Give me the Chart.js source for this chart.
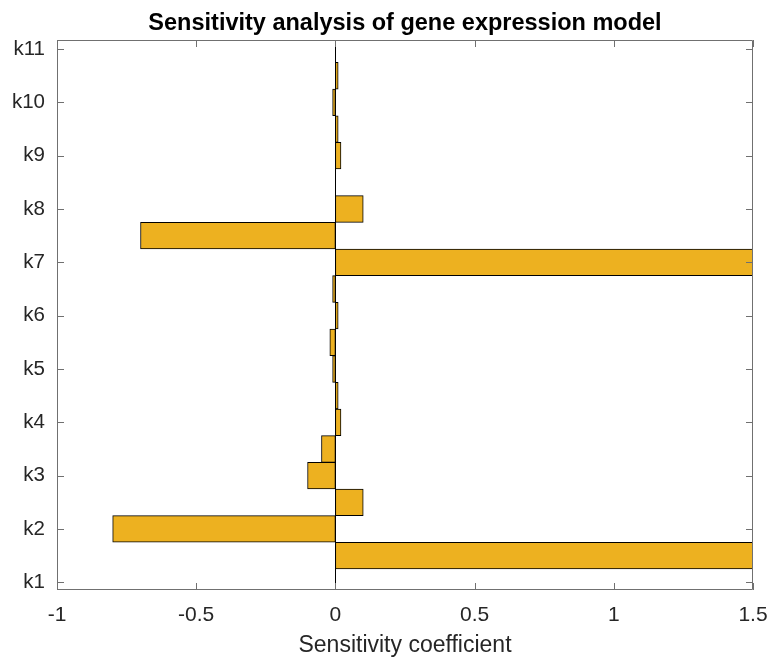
<!DOCTYPE html>
<html>
<head>
<meta charset="utf-8">
<script src="https://cdn.jsdelivr.net/npm/chart.js@4/dist/chart.umd.min.js"></script>
<style>
  body { margin: 0; background: #fff; }
  #wrap { width: 771px; height: 661px; }
</style>
</head>
<body>
<div id="wrap"><canvas id="grafico" width="771" height="661"></canvas></div>
<script>
// parameter positions (bars sit on half steps between k labels)
const positions = [1.5, 2, 2.5, 3, 3.5, 4, 4.5, 5, 5.5, 6, 6.5, 7, 7.5, 8, 8.5, 9, 9.5, 10, 10.5];
const coefficients = [1.5, -0.8, 0.1, -0.1, -0.05, 0.02, 0.01, -0.01, -0.02, 0.01, -0.01, 1.5, -0.7, 0.1, 0, 0.02, 0.01, -0.01, 0.01];
const tickLabels = ["k1", "k2", "k3", "k4", "k5", "k6", "k7", "k8", "k9", "k10", "k11"];
const xTicks = [-1, -0.5, 0, 0.5, 1, 1.5];

const FONT = "'Liberation Sans', Arial, Helvetica, sans-serif";
const AXIS_COLOR = "#707070";

// MATLAB style box with inward ticks and the zero baseline
const boxPlugin = {
  id: "box",
  afterDatasetsDraw(chart) {
    const { ctx, chartArea, scales } = chart;
    const { left, right, top, bottom } = chartArea;
    const len = 7;
    ctx.save();

    // baseline at zero
    const x0 = Math.round(scales.x.getPixelForValue(0)) + 0.5;
    ctx.strokeStyle = "#000";
    ctx.lineWidth = 1;
    ctx.beginPath();
    ctx.moveTo(x0, top);
    ctx.lineTo(x0, bottom);
    ctx.stroke();

    ctx.strokeStyle = AXIS_COLOR;
    ctx.beginPath();
    ctx.rect(left + 0.5, top + 0.5, right - left - 1, bottom - top - 1);
    xTicks.forEach(v => {
      const px = Math.round(scales.x.getPixelForValue(v)) + 0.5;
      ctx.moveTo(px, bottom);
      ctx.lineTo(px, bottom - len);
      ctx.moveTo(px, top);
      ctx.lineTo(px, top + len);
    });
    tickLabels.forEach((t, i) => {
      const py = Math.round(scales.y.getPixelForValue(i + 1)) + 0.5;
      ctx.moveTo(left, py);
      ctx.lineTo(left + len, py);
      ctx.moveTo(right, py);
      ctx.lineTo(right - len, py);
    });
    ctx.stroke();
    ctx.restore();
  }
};

const points = positions.map((p, i) => ({ x: coefficients[i], y: p }));

new Chart(document.getElementById("grafico"), {
  type: "bar",
  data: {
    datasets: [{
      data: points,
      backgroundColor: "#EDB120",
      borderColor: "#000",
      borderWidth: 1,
      borderSkipped: false,
      barPercentage: 1,
      categoryPercentage: 1
    }]
  },
  options: {
    responsive: false,
    animation: false,
    indexAxis: "y",
    layout: { padding: { left: 0, right: 18, top: 0, bottom: 0 } },
    plugins: {
      legend: { display: false },
      tooltip: { enabled: false },
      title: {
        display: true,
        text: "Sensitivity analysis of gene expression model",
        fullSize: false,
        color: "#000",
        font: { family: FONT, size: 23.5, weight: "bold", lineHeight: 1.2 },
        padding: { top: 9, bottom: 2.8 }
      }
    },
    scales: {
      x: {
        type: "linear",
        min: -1,
        max: 1.5,
        offset: false,
        afterBuildTicks(scale) {
          scale.ticks = xTicks.map(v => ({ value: v }));
        },
        afterFit(scale) {
          scale.height = 71;
          scale.paddingLeft = 0;
          scale.paddingRight = 0;
        },
        grid: { display: false, drawTicks: false },
        border: { display: false },
        ticks: {
          color: "#262626",
          padding: 13,
          maxRotation: 0,
          font: { family: FONT, size: 21 },
          callback: v => String(v)
        },
        title: {
          display: true,
          text: "Sensitivity coefficient",
          color: "#262626",
          font: { family: FONT, size: 23 },
          padding: { top: 0, bottom: 2 }
        }
      },
      y: {
        type: "linear",
        min: 0.855,
        max: 11.17,
        offset: false,
        afterBuildTicks(scale) {
          scale.ticks = tickLabels.map((t, i) => ({ value: i + 1 }));
        },
        afterFit(scale) {
          scale.width = 57;
          scale.paddingTop = 0;
          scale.paddingBottom = 0;
        },
        grid: { display: false, drawTicks: false },
        border: { display: false },
        ticks: {
          color: "#262626",
          padding: 12,
          font: { family: FONT, size: 20.5 },
          callback: v => tickLabels[Math.round(v) - 1]
        }
      }
    }
  },
  plugins: [boxPlugin]
});
</script>
</body>
</html>
